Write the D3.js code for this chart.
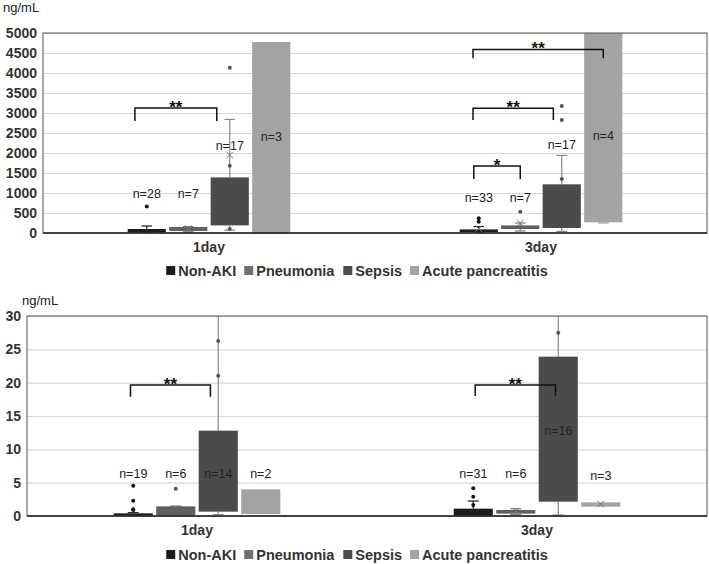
<!DOCTYPE html>
<html>
<head>
<meta charset="utf-8">
<script src="https://d3js.org/d3.v7.min.js"></script>
<style>
  body { margin: 0; background: #fff; }
  text { font-family: "Liberation Sans", Arial, sans-serif; fill: #222; }
</style>
</head>
<body>
<div id="my_dataviz"></div>
<script>

// categories and groups
var categories = ["1day", "3day"];
var groups = ["Non-AKI", "Pneumonia", "Sepsis", "Acute pancreatitis"];

// upper panel (0-5000 ng/mL), [category][group]
var upperQ1 = [[10, 50, 190, 0], [25, 100, 125, 267]];
var upperQ3 = [[100, 150, 1390, 4775], [90, 190, 1217, 6000]];
var upperLow = [[0, 30, 75, null], [0, 50, 40, 250]];
var upperHigh = [[175, 160, 2840, null], [160, 250, 1940, null]];
var upperMean = [[null, 110, 1950, null], [110, 250, null, null]];
var upperPoints = [[[660], [], [100, 1680, 4130], []], [[280, 370], [530], [1350, 2825, 3175], []]];
var upperN = [[28, 7, 17, 3], [33, 7, 17, 4]];
var upperNAt = [[950, 950, 2160, 2375], [850, 850, 2180, 2400]];
var upperTicks = [0, 500, 1000, 1500, 2000, 2500, 3000, 3500, 4000, 4500, 5000];

// lower panel (0-30 ng/mL)
var lowerQ1 = [[0.05, 0.05, 0.65, 0.3], [0, 0.35, 2.15, 1.4]];
var lowerQ3 = [[0.4, 1.45, 12.8, 4.0], [1.1, 0.9, 23.9, 2.05]];
var lowerLow = [[0, 0, 0.2, null], [0, 0.2, 0.15, null]];
var lowerHigh = [[0.5, 1.5, 40, null], [2.25, 1.1, 40, null]];
var lowerMean = [[null, null, null, null], [null, 0.7, null, 1.8]];
var lowerPoints = [[[4.55, 2.3, 1.0, 0.9], [4.1], [26.25, 21.05], []], [[4.15, 2.9, 1.65], [], [27.5], []]];
var lowerN = [[19, 6, 14, 2], [31, 6, 16, 3]];
var lowerNAt = [[6.15, 6.15, 6.15, 6.2], [6.15, 6.15, 12.65, 5.9]];
var lowerTicks = [0, 5, 10, 15, 20, 25, 30];

// significance brackets: group position (index + fraction of box), bar height, leg end
var upperBrackets = [
  {cat: "1day", from: 0.19, to: 2.16, top: 3125, leg: 2800, label: "**"},
  {cat: "3day", from: 0.35, to: 3.5, top: 4590, leg: 4370, label: "**"},
  {cat: "3day", from: 0.35, to: 2.28, top: 3117, leg: 2825, label: "**"},
  {cat: "3day", from: 0.37, to: 1.5, top: 1675, leg: 1350, label: "*"}
];
var lowerBrackets = [
  {cat: "1day", from: 0.43, to: 2.3, top: 19.65, leg: 17.9, label: "**"},
  {cat: "3day", from: 0.55, to: 2.43, top: 19.65, leg: 18.0, label: "**"}
];

var fills = ["#1c1c1c", "#606060", "#4b4b4b", "#a3a3a3"];
var whiskerColors = ["#1c1c1c", "#7a7a7a", "#888888", "#a3a3a3"];

var svg = d3.select("#my_dataviz")
  .append("svg")
  .attr("width", 709)
  .attr("height", 564);

function drawPanel(p, id) {
  var g = svg.append("g").attr("transform", "translate(" + p.left + "," + p.top + ")");

  var x0 = d3.scaleBand().domain(categories).range([0, p.width]);
  var inner = x0.bandwidth() * 0.49;
  var x1 = d3.scaleBand().domain(groups).range([0, inner]).paddingInner(0.08);
  var off = (x0.bandwidth() - inner) / 2;
  var y = d3.scaleLinear().domain([0, p.max]).range([p.height, 0]);

  function bx(ci, gi) { return x0(categories[ci]) + off + x1(groups[gi]); }
  function pos(cat, v) {
    var gi = Math.floor(v);
    return x0(cat) + off + x1(groups[gi]) + (v - gi) * x1.bandwidth();
  }

  g.append("clipPath").attr("id", id)
    .append("rect").attr("width", p.width).attr("height", p.height);

  // gridlines
  g.append("g")
    .call(d3.axisLeft(y).tickValues(p.ticks).tickSize(-p.width).tickFormat(""))
    .call(function(a) { a.select(".domain").remove(); })
    .selectAll("line").attr("stroke", "#d9d9d9").attr("stroke-width", 1.2);

  // tick labels
  var ax = g.append("g")
    .call(d3.axisLeft(y).tickValues(p.ticks).tickSize(0).tickPadding(6).tickFormat(d3.format("d")));
  ax.select(".domain").remove();
  ax.selectAll("text").style("font-size", "14px").style("font-weight", "bold")
    .style("fill", "#333").style("font-family", "'Liberation Sans', Arial, sans-serif");

  var plot = g.append("g").attr("clip-path", "url(#" + id + ")");
  var bw = x1.bandwidth();

  categories.forEach(function(cat, ci) {
    groups.forEach(function(grp, gi) {
      var left = bx(ci, gi), cx = left + bw / 2;
      var cap = bw * 0.14;
      var wc = whiskerColors[gi];
      var q1 = p.q1[ci][gi], q3 = p.q3[ci][gi];
      var lo = p.low[ci][gi], hi = p.high[ci][gi];

      if (hi != null) {
        plot.append("line").attr("x1", cx).attr("x2", cx).attr("y1", y(q3)).attr("y2", y(hi))
          .attr("stroke", wc).attr("stroke-width", 1.2);
        plot.append("line").attr("x1", cx - cap).attr("x2", cx + cap).attr("y1", y(hi)).attr("y2", y(hi))
          .attr("stroke", wc).attr("stroke-width", 1.2);
      }
      if (lo != null) {
        plot.append("line").attr("x1", cx).attr("x2", cx).attr("y1", y(q1)).attr("y2", y(lo))
          .attr("stroke", wc).attr("stroke-width", 1.2);
        plot.append("line").attr("x1", cx - cap).attr("x2", cx + cap).attr("y1", y(lo)).attr("y2", y(lo))
          .attr("stroke", wc).attr("stroke-width", 1.2);
      }

      plot.append("rect")
        .attr("x", left).attr("width", bw)
        .attr("y", y(q3)).attr("height", Math.max(1.5, y(q1) - y(q3)))
        .style("fill", fills[gi]);

      plot.selectAll(null).data(p.points[ci][gi]).enter()
        .append("circle")
        .attr("cx", cx).attr("cy", function(d) { return y(d); })
        .attr("r", 2)
        .style("fill", gi === 0 ? "#111" : "#555");

      var m = p.mean[ci][gi];
      if (m != null) {
        plot.append("path")
          .attr("d", d3.symbol(d3.symbolX, 30)())
          .attr("transform", "translate(" + cx + "," + y(m) + ")")
          .attr("stroke", "#777").attr("stroke-width", 1).attr("fill", "none");
      }

      g.append("text")
        .attr("x", cx).attr("y", y(p.nAt[ci][gi]))
        .attr("text-anchor", "middle").attr("dominant-baseline", "middle")
        .style("font-size", "12.5px").style("fill", "#222")
        .text("n=" + p.n[ci][gi]);
    });
  });

  // frame and x axis
  g.append("rect").attr("width", p.width).attr("height", p.height)
    .attr("fill", "none").attr("stroke", "#555").attr("stroke-width", 1);
  g.append("line").attr("x1", 0).attr("x2", p.width).attr("y1", p.height).attr("y2", p.height)
    .attr("stroke", "#222").attr("stroke-width", 1.5);

  // category labels
  g.selectAll(null).data(categories).enter().append("text")
    .attr("x", function(d) { return x0(d) + x0.bandwidth() / 2; })
    .attr("y", p.height + 19)
    .attr("text-anchor", "middle")
    .style("font-size", "14px").style("font-weight", "bold").style("fill", "#333")
    .text(function(d) { return d; });

  // brackets
  p.brackets.forEach(function(b) {
    var xa = pos(b.cat, b.from), xb = pos(b.cat, b.to);
    g.append("path")
      .attr("d", "M" + xa + "," + y(b.leg) + "V" + y(b.top) + "H" + xb + "V" + y(b.leg))
      .attr("fill", "none").attr("stroke", "#111").attr("stroke-width", 1.5);
    g.append("text")
      .attr("x", (xa + xb) / 2).attr("y", y(b.top) + 5)
      .attr("text-anchor", "middle")
      .style("font-size", "17px").style("font-weight", "bold").style("fill", "#111")
      .text(b.label);
  });

  // unit label
  svg.append("text").attr("x", p.unitX).attr("y", p.unitY)
    .style("font-size", "13px").text("ng/mL");

  // legend
  var leg = svg.append("g").attr("transform", "translate(0," + p.legendY + ")");
  var cursor = 0;
  var items = leg.selectAll(null).data(groups).enter().append("g");
  items.append("rect").attr("y", -5).attr("width", 9).attr("height", 9)
    .style("fill", function(d, i) { return i === 1 ? "#707070" : fills[i]; });
  items.append("text").attr("x", 12).attr("dy", "0.35em")
    .style("font-size", "14.5px").style("font-weight", "bold").style("fill", "#333")
    .text(function(d) { return d; });
  items.each(function() {
    var w = this.getBBox().width;
    d3.select(this).attr("transform", "translate(" + cursor + ",0)");
    cursor += w + 8;
  });
  var total = cursor - 8;
  items.attr("transform", function() {
    var t = d3.select(this).attr("transform");
    var xx = +t.match(/translate\(([-\d.]+)/)[1];
    return "translate(" + (xx + 357 - total / 2) + ",0)";
  });
}

drawPanel({left: 43, top: 33, width: 664, height: 200, max: 5000, ticks: upperTicks,
  q1: upperQ1, q3: upperQ3, low: upperLow, high: upperHigh, mean: upperMean,
  points: upperPoints, n: upperN, nAt: upperNAt, brackets: upperBrackets,
  unitX: 3, unitY: 12, legendY: 271}, "clipUpper");

drawPanel({left: 27, top: 316, width: 680, height: 200, max: 30, ticks: lowerTicks,
  q1: lowerQ1, q3: lowerQ3, low: lowerLow, high: lowerHigh, mean: lowerMean,
  points: lowerPoints, n: lowerN, nAt: lowerNAt, brackets: lowerBrackets,
  unitX: 22, unitY: 305, legendY: 555}, "clipLower");

</script>
</body>
</html>
